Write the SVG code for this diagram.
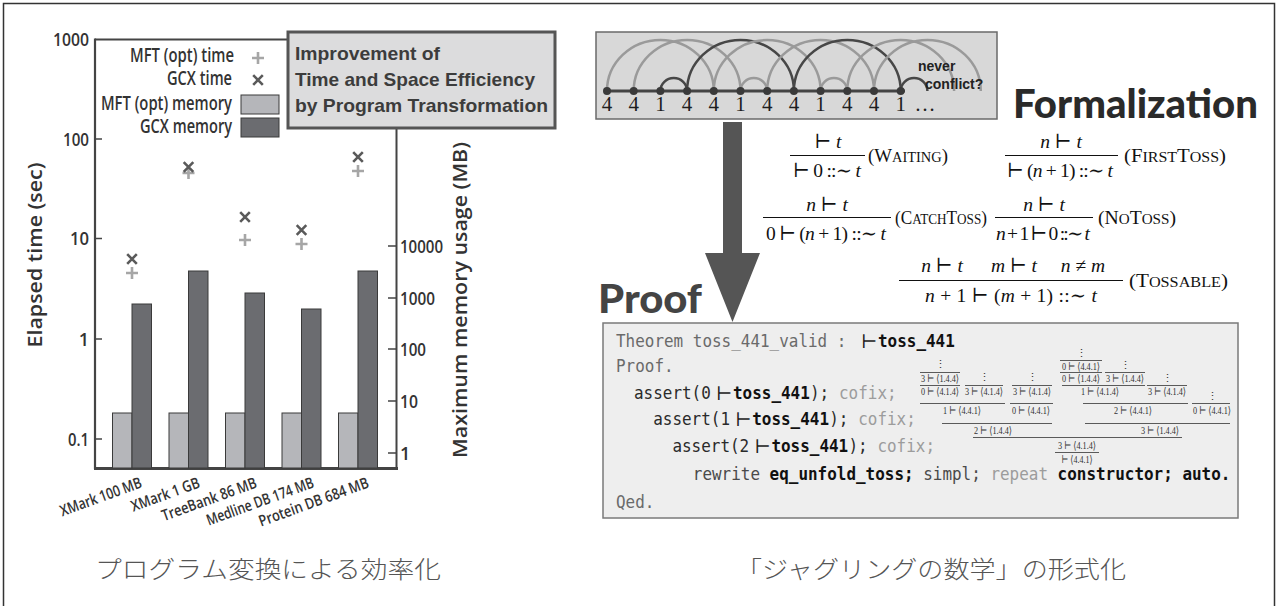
<svg xmlns="http://www.w3.org/2000/svg" width="1279" height="606" viewBox="0 0 1279 606">
  <defs>
    <style>
      .sans { font-family: "Open Sans", "Liberation Sans", sans-serif; font-weight: 600; fill: #333; }
      .tick { font-size: 18px; }
      .leg { font-size: 19px; text-anchor: end; }
      .xl { font-size: 15.5px; text-anchor: end; }
      .title { font-family: "Liberation Sans", Arial, sans-serif; font-weight: bold; font-size: 19px; fill: #3c3c3c; }
      .head { font-family: Lato, "Open Sans", sans-serif; font-weight: 900; font-size: 40px; }
      .math { font-family: "Liberation Serif", "DejaVu Serif", serif; font-size: 19.5px; fill: #111; }
      .mid { text-anchor: middle; }
      .it { font-style: italic; }
      .sc { font-size: 15px; }
      .frac { stroke: #111; stroke-width: 1; }
      .code { font-family: "DejaVu Sans Mono", "Liberation Mono", monospace; font-size: 17px; }
      .c1 { fill: #6a6a6a; }
      .c2 { fill: #2a2a2a; }
      .c3 { fill: #111; font-weight: bold; }
      .c4 { fill: #9c9c9c; }
      .c5 { fill: #4a4a4a; }
      .ts { font-family: "Liberation Serif", "DejaVu Serif", serif; font-size: 19px; fill: #222; }
      .tree { font-family: "Liberation Serif", "DejaVu Serif", serif; font-size: 11px; fill: #333; text-anchor: middle; }
      .tl { stroke: #333; stroke-width: 0.8; }
      .cap { font-family: "Noto Sans CJK JP", "Noto Sans", sans-serif; font-weight: 300; font-size: 24px; fill: #555; }
      .light { stroke: #9a9a9a; }
      .dark { stroke: #474747; }
      .arc { fill: none; stroke-width: 2.5; }
    </style>
    <g id="plus"><path d="M-6 0H6M0 -6V6" stroke="#a6a6a6" stroke-width="2.6"/></g>
    <g id="cross"><path d="M-4.8 -4.8L4.8 4.8M-4.8 4.8L4.8 -4.8" stroke="#5a5a5a" stroke-width="2.6"/></g>
    <clipPath id="jclip"><rect x="597" y="33" width="399" height="85"/></clipPath>
  </defs>

  <rect x="3.5" y="3.5" width="1271" height="640" fill="#fff" stroke="#333" stroke-width="1.5"/>

  <!-- ===== Left panel: benchmark chart ===== -->
  <g id="chart">
    <!-- axes -->
    <path d="M95 39.5H287" stroke="#444" stroke-width="2" fill="none"/>
    <path d="M95 38.5V469" stroke="#444" stroke-width="2.2" fill="none"/>
    <path d="M396.5 128V469" stroke="#444" stroke-width="2" fill="none"/>
    <path d="M94 468.5H398" stroke="#444" stroke-width="3" fill="none"/>
    <!-- left ticks -->
    <path d="M95 139H102M95 238.5H102M95 339H102M95 439H102" stroke="#444" stroke-width="1.6"/>
    <!-- right ticks -->
    <path d="M388 246H396M388 298H396M388 349H396M388 401H396M388 453H396" stroke="#444" stroke-width="1.6"/>
    <g class="sans tick" text-anchor="end">
      <text x="89" y="46" textLength="36" lengthAdjust="spacingAndGlyphs">1000</text>
      <text x="89" y="145.5" textLength="26" lengthAdjust="spacingAndGlyphs">100</text>
      <text x="89" y="245" textLength="19" lengthAdjust="spacingAndGlyphs">10</text>
      <text x="89" y="345.5">1</text>
      <text x="89" y="445.5" textLength="21" lengthAdjust="spacingAndGlyphs">0.1</text>
    </g>
    <g class="sans tick">
      <text x="400" y="252.5" textLength="43" lengthAdjust="spacingAndGlyphs">10000</text>
      <text x="400" y="304.5" textLength="35" lengthAdjust="spacingAndGlyphs">1000</text>
      <text x="400" y="355.5" textLength="26" lengthAdjust="spacingAndGlyphs">100</text>
      <text x="400" y="407.5" textLength="18" lengthAdjust="spacingAndGlyphs">10</text>
      <text x="400" y="459.5">1</text>
    </g>
    <text class="sans" font-size="19" font-weight="700" transform="translate(42 255) rotate(-90)" text-anchor="middle" textLength="185" lengthAdjust="spacingAndGlyphs">Elapsed time (sec)</text>
    <text class="sans" font-size="19" font-weight="700" transform="translate(467 300) rotate(-90)" text-anchor="middle" textLength="316" lengthAdjust="spacingAndGlyphs">Maximum memory usage (MB)</text>

    <!-- bars: MFT (opt) memory / GCX memory -->
    <g stroke="#3a3a3a" stroke-width="1">
      <rect x="112.5" y="413" width="19.5" height="55" fill="#b5b6ba"/>
      <rect x="132" y="304" width="19.5" height="164" fill="#6b6c70"/>
      <rect x="169" y="413" width="19.5" height="55" fill="#b5b6ba"/>
      <rect x="188.5" y="271" width="19.5" height="197" fill="#6b6c70"/>
      <rect x="225.5" y="413" width="19.5" height="55" fill="#b5b6ba"/>
      <rect x="245" y="293" width="19.5" height="175" fill="#6b6c70"/>
      <rect x="282" y="413" width="19.5" height="55" fill="#b5b6ba"/>
      <rect x="301.5" y="309" width="19.5" height="159" fill="#6b6c70"/>
      <rect x="338.5" y="413" width="19.5" height="55" fill="#b5b6ba"/>
      <rect x="358" y="271" width="19.5" height="197" fill="#6b6c70"/>
    </g>
    <!-- time markers -->
    <use href="#plus" x="132" y="273"/><use href="#cross" x="132" y="259"/>
    <use href="#plus" x="188.5" y="173"/><use href="#cross" x="188.5" y="167"/>
    <use href="#plus" x="245" y="240"/><use href="#cross" x="245" y="217"/>
    <use href="#plus" x="301.5" y="244"/><use href="#cross" x="301.5" y="230"/>
    <use href="#plus" x="358" y="171"/><use href="#cross" x="358" y="157"/>

    <!-- x labels -->
    <g class="sans xl">
      <text transform="translate(143 487) rotate(-20)" textLength="86" lengthAdjust="spacingAndGlyphs">XMark 100 MB</text>
      <text transform="translate(201 487) rotate(-20)" textLength="72" lengthAdjust="spacingAndGlyphs">XMark 1 GB</text>
      <text transform="translate(258 487) rotate(-20)" textLength="100" lengthAdjust="spacingAndGlyphs">TreeBank 86 MB</text>
      <text transform="translate(315 487) rotate(-20)" textLength="113" lengthAdjust="spacingAndGlyphs">Medline DB 174 MB</text>
      <text transform="translate(370 487) rotate(-20)" textLength="116" lengthAdjust="spacingAndGlyphs">Protein DB 684 MB</text>
    </g>
  </g>

  <g id="legend">
    <g class="sans leg">
      <text x="234" y="62" textLength="104" lengthAdjust="spacingAndGlyphs">MFT (opt) time</text>
      <text x="232" y="85" textLength="65" lengthAdjust="spacingAndGlyphs">GCX time</text>
      <text x="232" y="110" textLength="131" lengthAdjust="spacingAndGlyphs">MFT (opt) memory</text>
      <text x="232" y="133" textLength="92" lengthAdjust="spacingAndGlyphs">GCX memory</text>
    </g>
    <use href="#plus" x="258" y="58"/>
    <use href="#cross" x="258" y="80"/>
    <rect x="241" y="95" width="38" height="19" fill="#b5b6ba" stroke="#3a3a3a" stroke-width="1"/>
    <rect x="241" y="118" width="38" height="19" fill="#6b6c70" stroke="#3a3a3a" stroke-width="1"/>
  </g>

  <g id="title-box">
    <rect x="288" y="32" width="267" height="96" fill="#dcdcdd" stroke="#555" stroke-width="3"/>
    <text class="title" x="295" y="59.5" textLength="145" lengthAdjust="spacingAndGlyphs">Improvement of</text>
    <text class="title" x="295" y="86" textLength="240" lengthAdjust="spacingAndGlyphs">Time and Space Efficiency</text>
    <text class="title" x="295" y="112" textLength="253" lengthAdjust="spacingAndGlyphs">by Program Transformation</text>
  </g>

  <text id="caption-left" class="cap" x="95" y="578" textLength="346" lengthAdjust="spacingAndGlyphs">プログラム変換による効率化</text>

  <!-- ===== Right panel: juggling formalization ===== -->
  <g id="juggling">
    <rect x="596" y="32" width="401" height="87" fill="#d8d8d8" stroke="#6a6a6a" stroke-width="1.5"/>
    <g clip-path="url(#jclip)" class="arc">
      <!-- throws of height 4 (span 106.8) and 1 (span 26.7) -->
      <path class="light" d="M607 91A53.4 51 0 0 1 713.8 91"/>
      <path class="light" d="M633.7 91A53.4 51 0 0 1 740.5 91"/>
      <path class="dark" d="M660.4 91A13.35 13 0 0 1 687.1 91"/>
      <path class="dark" d="M687.1 91A53.4 51 0 0 1 793.9 91"/>
      <path class="light" d="M713.8 91A53.4 51 0 0 1 820.6 91"/>
      <path class="light" d="M740.5 91A13.35 13 0 0 1 767.2 91"/>
      <path class="light" d="M767.2 91A53.4 51 0 0 1 874 91"/>
      <path class="dark" d="M793.9 91A53.4 51 0 0 1 900.7 91"/>
      <path class="light" d="M820.6 91A13.35 13 0 0 1 847.3 91"/>
      <path class="light" d="M847.3 91A53.4 51 0 0 1 954.1 91"/>
      <path class="light" d="M874 91A53.4 51 0 0 1 980.8 91"/>
      <path class="dark" d="M900.7 91A13.35 13 0 0 1 927.4 91"/>
    </g>
    <path d="M607 91H905" stroke="#444" stroke-width="3"/>
    <g fill="#3a3a3a">
      <circle cx="607" cy="91" r="4"/><circle cx="633.7" cy="91" r="4"/><circle cx="660.4" cy="91" r="4"/>
      <circle cx="687.1" cy="91" r="4"/><circle cx="713.8" cy="91" r="4"/><circle cx="740.5" cy="91" r="4"/>
      <circle cx="767.2" cy="91" r="4"/><circle cx="793.9" cy="91" r="4"/><circle cx="820.6" cy="91" r="4"/>
      <circle cx="847.3" cy="91" r="4"/><circle cx="874" cy="91" r="4"/><circle cx="900.7" cy="91" r="4"/>
    </g>
    <g font-family="Liberation Serif, serif" font-size="21" fill="#1e1e1e" text-anchor="middle">
      <text x="607" y="111">4</text><text x="633.7" y="111">4</text><text x="660.4" y="111">1</text>
      <text x="687.1" y="111">4</text><text x="713.8" y="111">4</text><text x="740.5" y="111">1</text>
      <text x="767.2" y="111">4</text><text x="793.9" y="111">4</text><text x="820.6" y="111">1</text>
      <text x="847.3" y="111">4</text><text x="874" y="111">4</text><text x="900.7" y="111">1</text>
      <text x="925" y="111">…</text>
    </g>
    <g font-family="Liberation Sans, Arial, sans-serif" font-weight="bold" font-size="14" fill="#222">
      <text x="918" y="71">never</text>
      <text x="925" y="89">conflict?</text>
    </g>
  </g>

  <g id="arrow">
    <path d="M723 122H742V253H760L732.5 322L705 253H723Z" fill="#555"/>
  </g>

  <text id="formalization" class="head" x="1013" y="118" fill="#2a2a2a" textLength="245" lengthAdjust="spacingAndGlyphs">Formalization</text>
  <text id="proof-label" class="head" x="598" y="313" fill="#444" textLength="104" lengthAdjust="spacingAndGlyphs">Proof</text>

  <g id="rules" class="math" xml:space="preserve">
    <!-- Waiting -->
    <text class="mid" x="828" y="148">⊢ <tspan class="it">t</tspan></text>
    <path class="frac" d="M790 155.5H865"/>
    <text class="mid" x="827" y="177" textLength="68" lengthAdjust="spacing">⊢ 0 ::∼ <tspan class="it">t</tspan></text>
    <text x="868" y="162" textLength="80" lengthAdjust="spacingAndGlyphs">(W<tspan class="sc">AITING</tspan>)</text>
    <!-- FirstToss -->
    <text class="mid" x="1061" y="148"><tspan class="it">n</tspan> ⊢ <tspan class="it">t</tspan></text>
    <path class="frac" d="M1005 155.5H1118"/>
    <text class="mid" x="1060" y="177" textLength="106" lengthAdjust="spacing">⊢ (<tspan class="it">n</tspan> + 1) ::∼ <tspan class="it">t</tspan></text>
    <text x="1124" y="162" textLength="102" lengthAdjust="spacingAndGlyphs">(F<tspan class="sc">IRST</tspan>T<tspan class="sc">OSS</tspan>)</text>
    <!-- CatchToss -->
    <text class="mid" x="827" y="211"><tspan class="it">n</tspan> ⊢ <tspan class="it">t</tspan></text>
    <path class="frac" d="M763 217.5H891"/>
    <text class="mid" x="826" y="240" textLength="120" lengthAdjust="spacing">0 ⊢ (<tspan class="it">n</tspan> + 1) ::∼ <tspan class="it">t</tspan></text>
    <text x="895" y="224" textLength="92" lengthAdjust="spacingAndGlyphs">(C<tspan class="sc">ATCH</tspan>T<tspan class="sc">OSS</tspan>)</text>
    <!-- NoToss -->
    <text class="mid" x="1044" y="211"><tspan class="it">n</tspan> ⊢ <tspan class="it">t</tspan></text>
    <path class="frac" d="M995 217.5H1093"/>
    <text class="mid" x="1043" y="240" textLength="94" lengthAdjust="spacing"><tspan class="it">n</tspan> + 1 ⊢ 0 ::∼ <tspan class="it">t</tspan></text>
    <text x="1098" y="224" textLength="78" lengthAdjust="spacingAndGlyphs">(N<tspan class="sc">O</tspan>T<tspan class="sc">OSS</tspan>)</text>
    <!-- Tossable -->
    <text class="mid" x="942" y="272"><tspan class="it">n</tspan> ⊢ <tspan class="it">t</tspan></text>
    <text class="mid" x="1014" y="272"><tspan class="it">m</tspan> ⊢ <tspan class="it">t</tspan></text>
    <text class="mid" x="1083" y="272"><tspan class="it">n</tspan> ≠ <tspan class="it">m</tspan></text>
    <path class="frac" d="M899 280.5H1123"/>
    <text class="mid" x="1011" y="302" textLength="172" lengthAdjust="spacing"><tspan class="it">n</tspan> + 1 ⊢ (<tspan class="it">m</tspan> + 1) ::∼ <tspan class="it">t</tspan></text>
    <text x="1129" y="287" textLength="99" lengthAdjust="spacingAndGlyphs">(T<tspan class="sc">OSSABLE</tspan>)</text>
  </g>

  <g id="proof-box">
    <rect x="603" y="323" width="635" height="195" fill="#eeeeee" stroke="#7a7a7a" stroke-width="1.5"/>
    <g class="code">
      <text class="c1" x="616" y="347" textLength="230.4" lengthAdjust="spacingAndGlyphs">Theorem toss_441_valid :</text>
      <text class="c3" x="878" y="347" textLength="76.8" lengthAdjust="spacingAndGlyphs">toss_441</text>
      <text class="c1" x="616" y="372" textLength="57.6" lengthAdjust="spacingAndGlyphs">Proof.</text>

      <text class="c2" x="634" y="399" textLength="76.8" lengthAdjust="spacingAndGlyphs">assert(0</text>
      <text class="c3" x="733" y="399" textLength="76.8" lengthAdjust="spacingAndGlyphs">toss_441</text>
      <text class="c2" x="810" y="399" textLength="19.2" lengthAdjust="spacingAndGlyphs">);</text>
      <text class="c4" x="839" y="399" textLength="57.6" lengthAdjust="spacingAndGlyphs">cofix;</text>

      <text class="c2" x="653.2" y="425" textLength="76.8" lengthAdjust="spacingAndGlyphs">assert(1</text>
      <text class="c3" x="752.2" y="425" textLength="76.8" lengthAdjust="spacingAndGlyphs">toss_441</text>
      <text class="c2" x="829.2" y="425" textLength="19.2" lengthAdjust="spacingAndGlyphs">);</text>
      <text class="c4" x="858.2" y="425" textLength="57.6" lengthAdjust="spacingAndGlyphs">cofix;</text>

      <text class="c2" x="672.4" y="452" textLength="76.8" lengthAdjust="spacingAndGlyphs">assert(2</text>
      <text class="c3" x="771.4" y="452" textLength="76.8" lengthAdjust="spacingAndGlyphs">toss_441</text>
      <text class="c2" x="848.4" y="452" textLength="19.2" lengthAdjust="spacingAndGlyphs">);</text>
      <text class="c4" x="877.4" y="452" textLength="57.6" lengthAdjust="spacingAndGlyphs">cofix;</text>

      <text class="c5" x="692.8" y="480" textLength="67.2" lengthAdjust="spacingAndGlyphs">rewrite</text>
      <text class="c3" x="769.6" y="480" textLength="144" lengthAdjust="spacingAndGlyphs">eq_unfold_toss;</text>
      <text class="c5" x="923.2" y="480" textLength="57.6" lengthAdjust="spacingAndGlyphs">simpl;</text>
      <text class="c4" x="990.4" y="480" textLength="57.6" lengthAdjust="spacingAndGlyphs">repeat</text>
      <text class="c3" x="1057.6" y="480" textLength="115.2" lengthAdjust="spacingAndGlyphs">constructor;</text>
      <text class="c3" x="1182.4" y="480" textLength="48" lengthAdjust="spacingAndGlyphs">auto.</text>
      <text class="c1" x="616" y="508" textLength="38.4" lengthAdjust="spacingAndGlyphs">Qed.</text>
    </g>
    <g class="ts">
      <text x="861" y="348">⊢</text>
      <text x="716" y="400">⊢</text>
      <text x="735.2" y="426">⊢</text>
      <text x="754.4" y="453">⊢</text>
    </g>
    <!-- derivation trees -->
    <g class="tree">
      <text x="940" y="368">⋮</text>
      <text x="940" y="382" textLength="38" lengthAdjust="spacingAndGlyphs">3 ⊢ ⟨1.4.4⟩</text>
      <text x="984" y="381">⋮</text><text x="1032" y="381">⋮</text>
      <text x="940" y="395" textLength="38" lengthAdjust="spacingAndGlyphs">0 ⊢ ⟨4.1.4⟩</text>
      <text x="984" y="395" textLength="38" lengthAdjust="spacingAndGlyphs">3 ⊢ ⟨4.1.4⟩</text>
      <text x="1032" y="395" textLength="38" lengthAdjust="spacingAndGlyphs">3 ⊢ ⟨4.1.4⟩</text>
      <text x="962" y="414" textLength="38" lengthAdjust="spacingAndGlyphs">1 ⊢ ⟨4.4.1⟩</text>
      <text x="1031" y="414" textLength="38" lengthAdjust="spacingAndGlyphs">0 ⊢ ⟨4.4.1⟩</text>
      <text x="993" y="434" textLength="38" lengthAdjust="spacingAndGlyphs">2 ⊢ ⟨1.4.4⟩</text>

      <text x="1081" y="357">⋮</text>
      <text x="1081" y="370" textLength="38" lengthAdjust="spacingAndGlyphs">0 ⊢ ⟨4.4.1⟩</text>
      <text x="1125" y="369">⋮</text>
      <text x="1081" y="382" textLength="38" lengthAdjust="spacingAndGlyphs">0 ⊢ ⟨1.4.4⟩</text>
      <text x="1125" y="382" textLength="38" lengthAdjust="spacingAndGlyphs">3 ⊢ ⟨1.4.4⟩</text>
      <text x="1167" y="382">⋮</text>
      <text x="1100" y="395" textLength="38" lengthAdjust="spacingAndGlyphs">1 ⊢ ⟨4.1.4⟩</text>
      <text x="1167" y="395" textLength="38" lengthAdjust="spacingAndGlyphs">3 ⊢ ⟨4.1.4⟩</text>
      <text x="1212" y="400">⋮</text>
      <text x="1133" y="414" textLength="38" lengthAdjust="spacingAndGlyphs">2 ⊢ ⟨4.4.1⟩</text>
      <text x="1212" y="414" textLength="38" lengthAdjust="spacingAndGlyphs">0 ⊢ ⟨4.4.1⟩</text>
      <text x="1160" y="434" textLength="38" lengthAdjust="spacingAndGlyphs">3 ⊢ ⟨1.4.4⟩</text>

      <text x="1077" y="449" textLength="38" lengthAdjust="spacingAndGlyphs">3 ⊢ ⟨4.1.4⟩</text>
      <text x="1077" y="463" textLength="31" lengthAdjust="spacingAndGlyphs">⊢ ⟨4.4.1⟩</text>
    </g>
    <path class="tl" d="M920 372.5H960M920 385.5H960M965 385.5H1003M1012 385.5H1052M920 403.5H1005M1010 403.5H1053M942 423.5H1052
      M1060 360.5H1102M1060 372.5H1102M1105 372.5H1145M1062 385.5H1145M1147 385.5H1187M1083 403.5H1188M1192 403.5H1230M1085 423.5H1230
      M973 437.5H1182M1055 452.5H1099"/>
  </g>

  <text id="caption-right" class="cap" x="736" y="578" textLength="390" lengthAdjust="spacingAndGlyphs">「ジャグリングの数学」の形式化</text>
</svg>
